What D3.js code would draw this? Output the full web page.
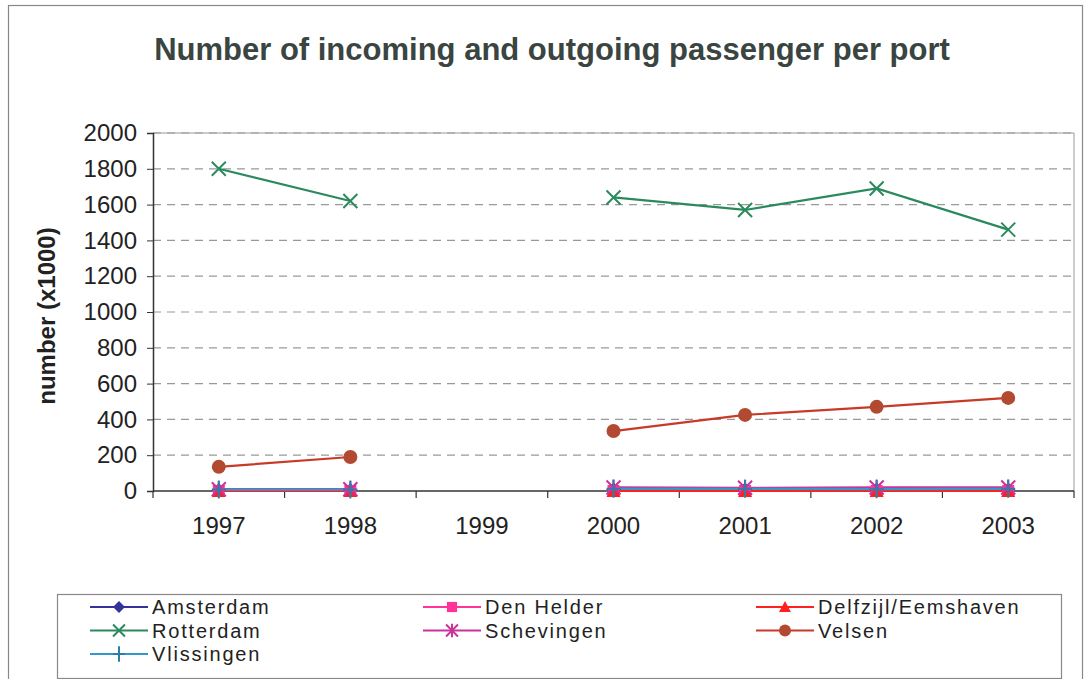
<!DOCTYPE html>
<html><head><meta charset="utf-8">
<script src="https://cdn.jsdelivr.net/npm/d3@7"></script>
<style>body{margin:0;background:#fff;}svg{display:block;font-family:Arial,"Liberation Sans",sans-serif;}</style>
</head><body><svg id="c" width="1086" height="679"></svg>
<script>
const years = ["1997","1998","1999","2000","2001","2002","2003"];
const yTicks = [0,200,400,600,800,1000,1200,1400,1600,1800,2000];
const amsterdam  = [5, 5, null, 8, 8, 8, 8];
const denHelder  = [0, 0, null, 0, 0, 0, 0];
const delfzijl   = [0, 0, null, 0, 0, 0, 0];
const rotterdam  = [1800, 1620, null, 1640, 1570, 1690, 1460];
const schevingen = [10, 10, null, 20, 18, 20, 20];
const velsen     = [135, 190, null, 335, 425, 470, 520];
const vlissingen = [8, 8, null, 12, 12, 10, 12];

const series = [
  {name:"Amsterdam", values:amsterdam, line:"#333399", mark:"#333399", sym:"diamond"},
  {name:"Den Helder", values:denHelder, line:"#FF3399", mark:"#FF3399", sym:"square"},
  {name:"Delfzijl/Eemshaven", values:delfzijl, line:"#FF2020", mark:"#FF2020", sym:"triangle"},
  {name:"Rotterdam", values:rotterdam, line:"#2A8A5E", mark:"#2A8A5E", sym:"x"},
  {name:"Schevingen", values:schevingen, line:"#CC3399", mark:"#CC3399", sym:"star"},
  {name:"Velsen", values:velsen, line:"#C83A28", mark:"#B24A32", sym:"circle"},
  {name:"Vlissingen", values:vlissingen, line:"#3399CC", mark:"#2A7FAA", sym:"plus"}
];

const svg = d3.select("#c");
const L=153, R=1074, T=133, B=491;
const FONT = "Arial,'Liberation Sans',sans-serif";

// outer frame
svg.append("rect").attr("x",8.5).attr("y",5.5).attr("width",1074).attr("height",690)
  .attr("fill","none").attr("stroke","#888").attr("stroke-width",1.2);

svg.append("text").attr("x",552).attr("y",60).attr("text-anchor","middle")
  .attr("font-size",31).attr("font-weight","bold").attr("fill","#3a4440")
  .text("Number of incoming and outgoing passenger per port");

const x = d3.scaleBand().domain(years).range([L,R]).paddingInner(0).paddingOuter(0);
const y = d3.scaleLinear().domain([0,2000]).range([B,T]);

// gridlines
svg.append("g").selectAll("line").data(yTicks.filter(d=>d>0)).join("line")
  .attr("x1",L).attr("x2",R).attr("y1",d=>y(d)).attr("y2",d=>y(d))
  .attr("stroke","#999").attr("stroke-dasharray","8,6").attr("stroke-width",1.2);

// plot frame right/top
svg.append("path").attr("d",`M${L},${T}H${R}V${B}`).attr("fill","none").attr("stroke","#999").attr("stroke-width",1);

// y axis
const ya = svg.append("g").attr("transform",`translate(${L},0)`)
  .call(d3.axisLeft(y).tickValues(yTicks).tickFormat(d3.format("d")).tickSize(6).tickPadding(10));
ya.attr("font-size",null).attr("font-family",null);
ya.selectAll("text").attr("font-size",24).attr("fill","#222").attr("font-family",FONT);
ya.select(".domain").attr("stroke","#333").attr("stroke-width",1.5);
ya.selectAll(".tick line").attr("stroke","#333");

// x axis
const xa = svg.append("g").attr("transform",`translate(0,${B})`)
  .call(d3.axisBottom(x).tickSize(0).tickPadding(26));
xa.attr("font-size",null).attr("font-family",null);
xa.selectAll("text").attr("font-size",24).attr("fill","#222").attr("font-family",FONT);
xa.select(".domain").remove();
svg.append("line").attr("x1",L).attr("x2",R).attr("y1",B).attr("y2",B).attr("stroke","#333").attr("stroke-width",1.5);
svg.append("g").selectAll("line").data(d3.range(years.length+1)).join("line")
  .attr("x1",i=>L+i*x.step()).attr("x2",i=>L+i*x.step()).attr("y1",B).attr("y2",B+7)
  .attr("stroke","#333").attr("stroke-width",1.2);

svg.append("text").attr("transform","translate(55,316) rotate(-90)").attr("text-anchor","middle")
  .attr("font-size",24).attr("font-weight","bold").attr("fill","#222").text("number (x1000)");

function drawMarker(g, sym, cx, cy, color, s){
  s = s||1;
  if(sym==="diamond") g.append("path").attr("d",`M${cx},${cy-7*s}L${cx+7*s},${cy}L${cx},${cy+7*s}L${cx-7*s},${cy}Z`).attr("fill",color);
  else if(sym==="square") g.append("rect").attr("x",cx-6*s).attr("y",cy-6*s).attr("width",12*s).attr("height",12*s).attr("fill",color);
  else if(sym==="triangle") g.append("path").attr("d",`M${cx},${cy-7*s}L${cx+7*s},${cy+6*s}L${cx-7*s},${cy+6*s}Z`).attr("fill",color);
  else if(sym==="x") g.append("path").attr("d",`M${cx-7*s},${cy-7*s}L${cx+7*s},${cy+7*s}M${cx+7*s},${cy-7*s}L${cx-7*s},${cy+7*s}`).attr("stroke",color).attr("stroke-width",2);
  else if(sym==="star") g.append("path").attr("d",`M${cx-7*s},${cy-7*s}L${cx+7*s},${cy+7*s}M${cx+7*s},${cy-7*s}L${cx-7*s},${cy+7*s}M${cx},${cy-8*s}L${cx},${cy+8*s}`).attr("stroke",color).attr("stroke-width",2);
  else if(sym==="circle") g.append("circle").attr("cx",cx).attr("cy",cy).attr("r",7*s).attr("fill",color);
  else if(sym==="plus") g.append("path").attr("d",`M${cx-7*s},${cy}L${cx+7*s},${cy}M${cx},${cy-9*s}L${cx},${cy+9*s}`).attr("stroke",color).attr("stroke-width",2);
}

const cxOf = i => x(years[i]) + x.bandwidth()/2;
const line = d3.line().defined(d=>d.v!==null).x(d=>cxOf(d.i)).y(d=>y(d.v));
const gS = svg.append("g");
series.forEach(s=>{
  const pts = s.values.map((v,i)=>({v,i}));
  gS.append("path").attr("d",line(pts)).attr("fill","none").attr("stroke",s.line).attr("stroke-width",2.2);
});
series.forEach(s=>{
  const g = gS.append("g");
  s.values.forEach((v,i)=>{ if(v!==null) drawMarker(g,s.sym,cxOf(i),y(v),s.mark,1); });
});

// legend
svg.append("rect").attr("x",57.5).attr("y",594.5).attr("width",1004).attr("height",84)
  .attr("fill","none").attr("stroke","#888").attr("stroke-width",1.2);
const colX = [90, 423, 756];
const rowY = [607, 630.5, 654];
series.forEach((s,k)=>{
  const cx = colX[k%3], cy = rowY[Math.floor(k/3)];
  const g = svg.append("g");
  g.append("line").attr("x1",cx).attr("x2",cx+58).attr("y1",cy).attr("y2",cy).attr("stroke",s.line).attr("stroke-width",2);
  drawMarker(g,s.sym,cx+29,cy,s.mark,0.85);
  g.append("text").attr("x",cx+62).attr("y",cy+7).attr("font-size",20).attr("letter-spacing",1.8).attr("fill","#222").text(s.name);
});
</script></body></html>
